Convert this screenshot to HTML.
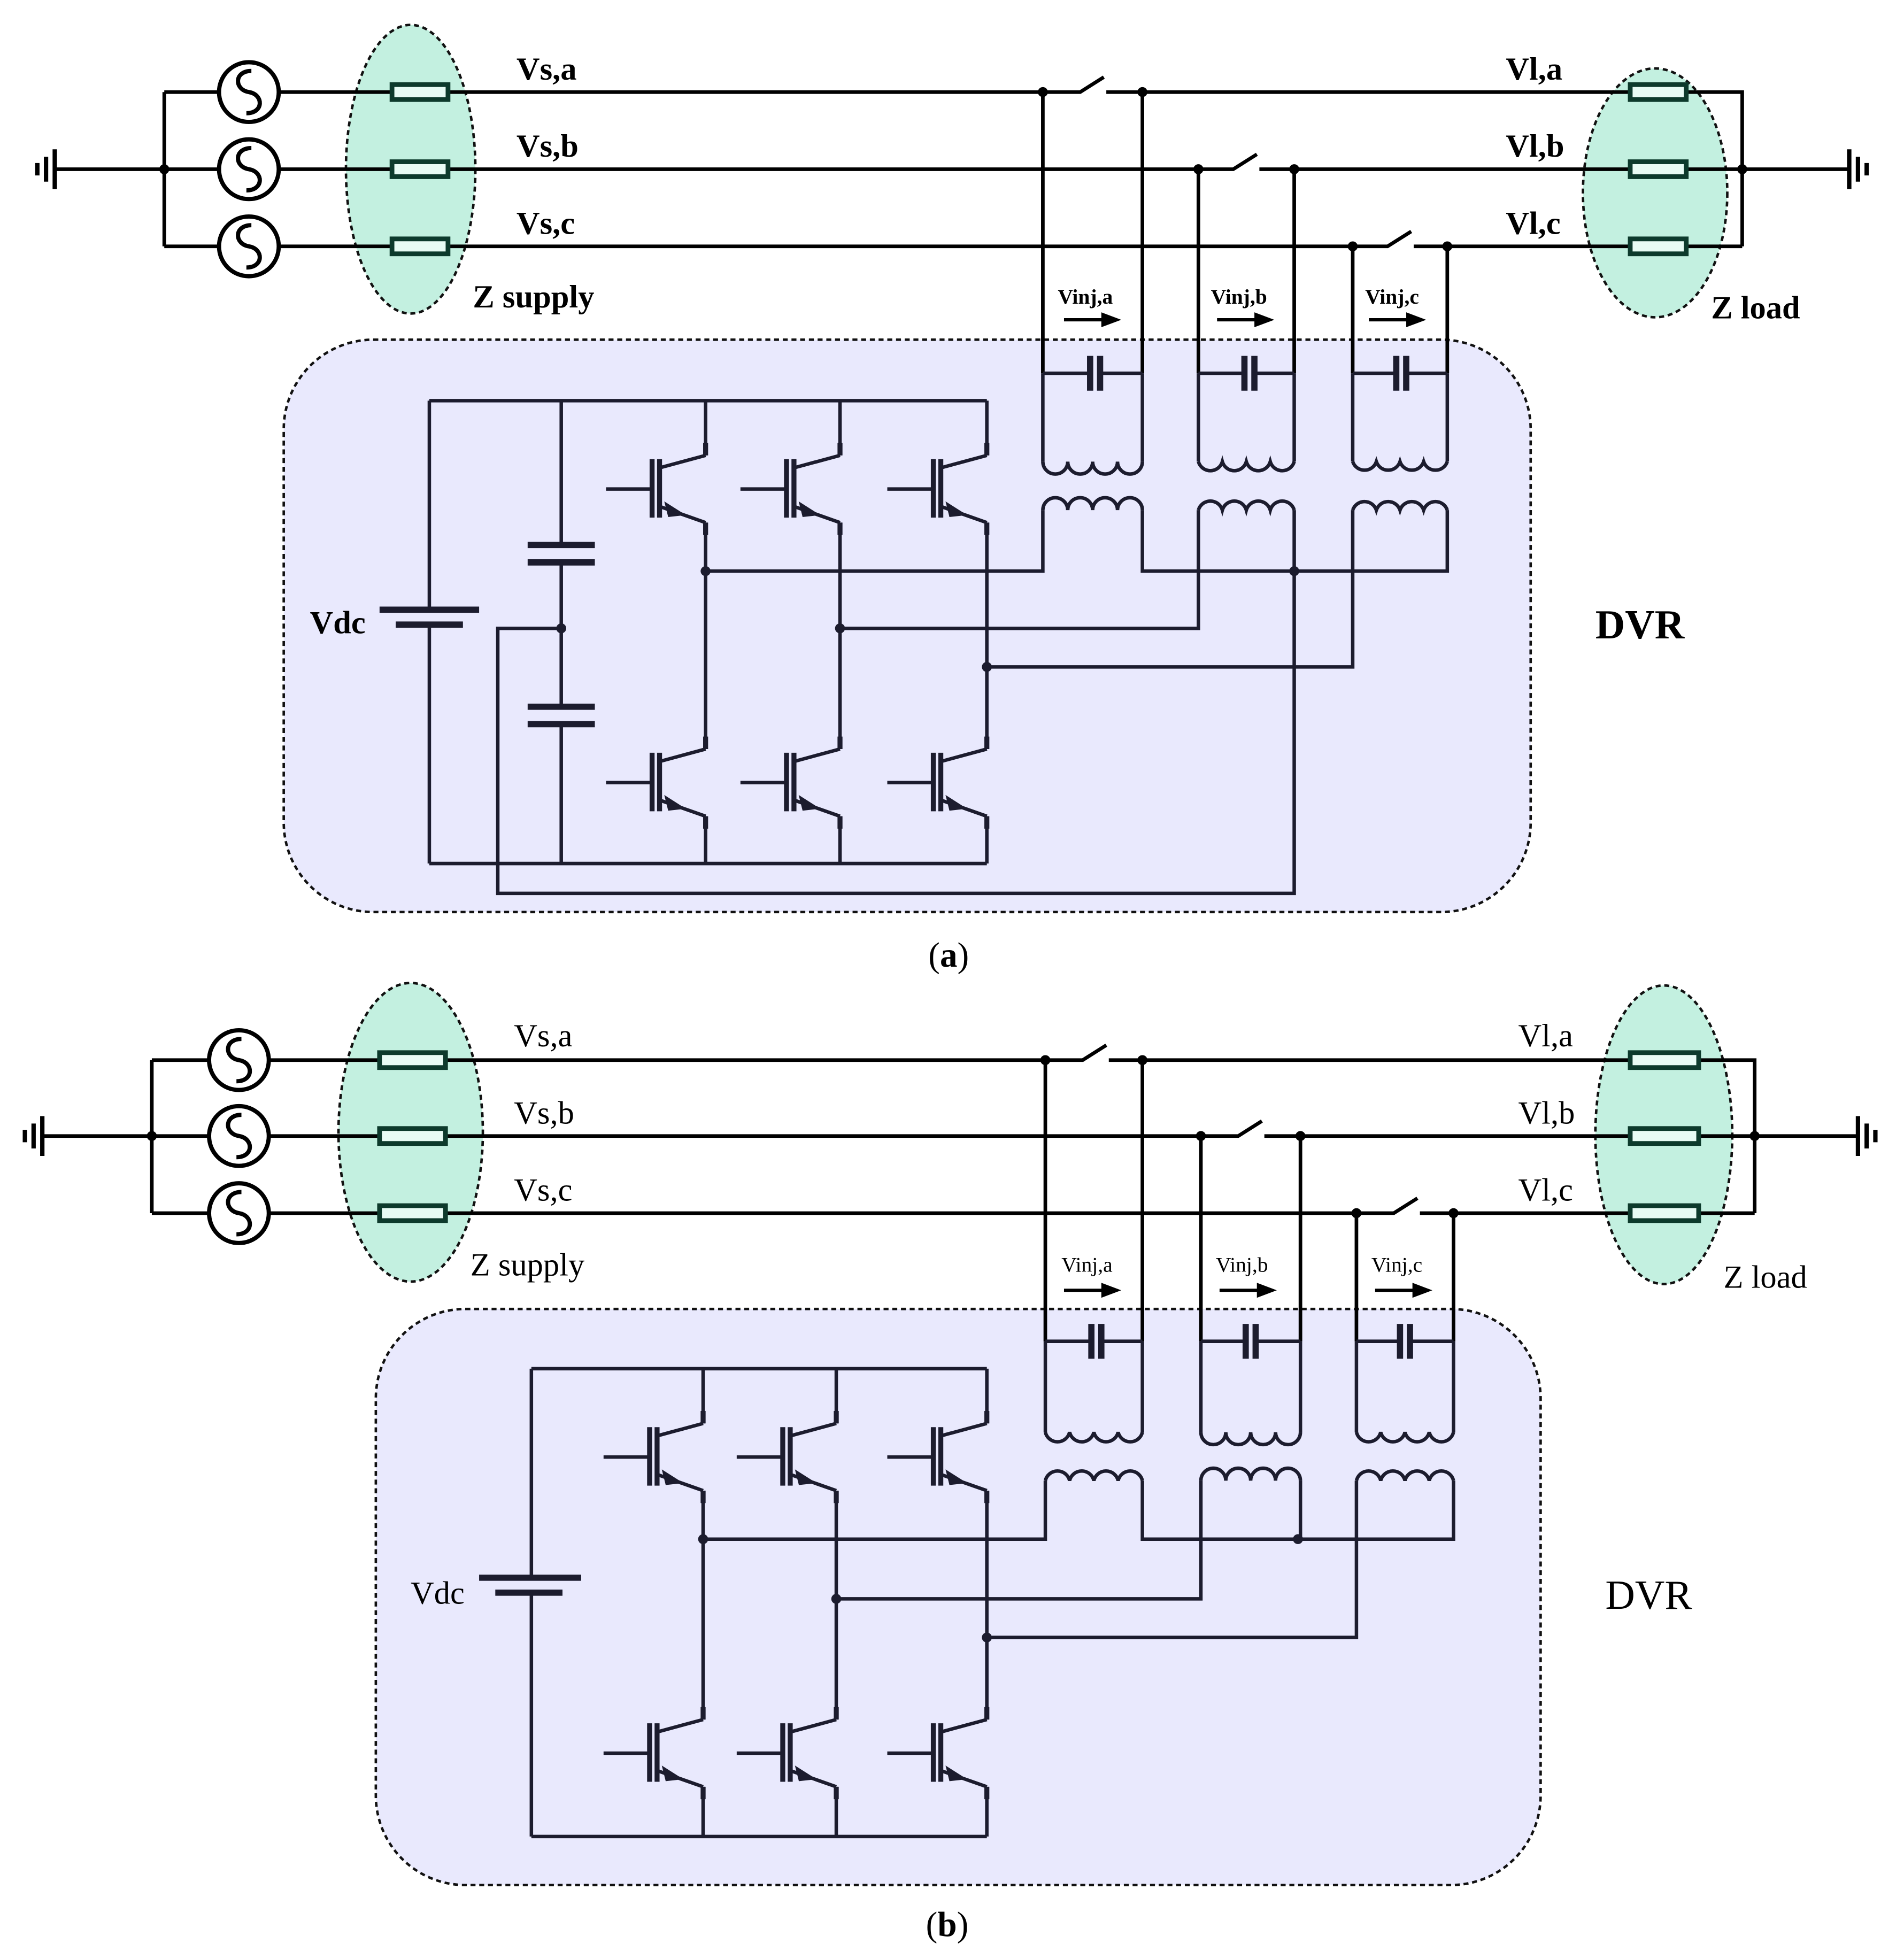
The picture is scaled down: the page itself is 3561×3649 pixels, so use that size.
<!DOCTYPE html>
<html><head><meta charset="utf-8"><style>
html,body{margin:0;padding:0;background:#fff}
svg{display:block}
text{font-family:"Liberation Serif",serif;fill:#000}
</style></head><body>
<svg width="3561" height="3649" viewBox="0 0 1530 1568" preserveAspectRatio="none" xmlns="http://www.w3.org/2000/svg">
<defs>
<g id="igbt" fill="none" stroke="#1c1c2e" stroke-width="2.8">
<path d="M0,-27 L-37,-17 M-37,14 L0,27 M-80,0 L-43,0"/>
<path d="M0,-27 L0,-37 M0,27 L0,37" stroke-width="4"/>
<path d="M-43,-24 L-43,23 M-37,-24 L-37,23" stroke-width="4"/>
<path d="M-20,20 L-31,13 L-29,21 Z" fill="#1c1c2e"/>
</g>
<g id="src">
<circle r="24" fill="#fff" stroke="#000" stroke-width="3.4"/>
<path d="M2,-17 C-12,-17 -12,-2 0,0 C12,2 12,17 -2,17" fill="none" stroke="#000" stroke-width="3.4"/>
</g>
<g id="arrow"><path d="M0,0 L35,0" stroke="#000" stroke-width="2.6"/><path d="M30,-6 L46,0 L30,6 Z" fill="#000"/></g>
</defs>

<!-- ============ (a) ============ -->
<rect x="228" y="273" width="1002" height="460" rx="72" fill="#e9e9fd" stroke="#111" stroke-width="2" stroke-dasharray="4,3"/>
<ellipse cx="330" cy="136" rx="52" ry="116" fill="#c3f0e0" stroke="#111" stroke-width="2" stroke-dasharray="4,3"/>
<ellipse cx="1330" cy="155" rx="58" ry="100" fill="#c3f0e0" stroke="#111" stroke-width="2" stroke-dasharray="4,3"/>

<g stroke="#000" stroke-width="2.9" fill="none">
<path d="M45,136 H132 M132,74 V198 M132,74 H176 M132,136 H176 M132,198 H176"/>
<path d="M224,74 H315 M224,136 H315 M224,198 H315"/>
<path d="M360,74 H868 L887,62 M889,74 H1310 M360,136 H991 L1010,124 M1012,136 H1310 M360,198 H1115 L1134,186 M1136,198 H1310"/>
<path d="M1355,74 H1400 V198 M1355,136 H1400 M1355,198 H1400 M1400,136 H1485"/>
<path d="M838,74 V300 M918,74 V300 M963,136 V300 M1040,136 V300 M1087,198 V300 M1163,198 V300"/>
</g>
<g stroke="#000" stroke-width="3.5"><path d="M44,120 V152 M37,126 V146 M30,131 V141 M1486,120 V152 M1493,126 V146 M1500,131 V141"/></g>
<g fill="#000"><circle cx="132" cy="136" r="4"/><circle cx="838" cy="74" r="4"/><circle cx="918" cy="74" r="4"/><circle cx="963" cy="136" r="4"/><circle cx="1040" cy="136" r="4"/><circle cx="1087" cy="198" r="4"/><circle cx="1163" cy="198" r="4"/><circle cx="1400" cy="136" r="4"/></g>
<use href="#src" x="200" y="74"/><use href="#src" x="200" y="136"/><use href="#src" x="200" y="198"/>
<g fill="#e8fbf4" stroke="#0d3a2c" stroke-width="3.8">
<rect x="315" y="68" width="45" height="12"/><rect x="315" y="130" width="45" height="12"/><rect x="315" y="192" width="45" height="12"/>
<rect x="1310" y="68" width="45" height="12"/><rect x="1310" y="130" width="45" height="12"/><rect x="1310" y="192" width="45" height="12"/>
</g>
<g font-weight="bold" font-size="26">
<text x="415" y="64">Vs,a</text><text x="415" y="126">Vs,b</text><text x="415" y="188">Vs,c</text>
<text x="1210" y="64">Vl,a</text><text x="1210" y="126">Vl,b</text><text x="1210" y="188">Vl,c</text>
<text x="380" y="247">Z supply</text><text x="1375" y="256">Z load</text>
<text x="249" y="509">Vdc</text><text x="1282" y="513" font-size="33">DVR</text>
</g>
<g font-weight="bold" font-size="17"><text x="850" y="244">Vinj,a</text><text x="973" y="244">Vinj,b</text><text x="1097" y="244">Vinj,c</text></g>
<use href="#arrow" x="855" y="257"/><use href="#arrow" x="978" y="257"/><use href="#arrow" x="1100" y="257"/>

<g stroke="#1c1c2e" stroke-width="2.8" fill="none">
<path d="M838,300 V371 M918,300 V371 M963,300 V371 M1040,300 V371 M1087,300 V371 M1163,300 V371"/>
<path d="M838,300 H876 M884,300 H918 M963,300 H1000 M1008,300 H1040 M1087,300 H1122 M1130,300 H1163"/>
<path d="M838,371 a10,10 0 0 0 20,0 a10,10 0 0 0 20,0 a10,10 0 0 0 20,0 a10,10 0 0 0 20,0 M963,371 a10,10 0 0 0 19.25,0 a10,10 0 0 0 19.25,0 a10,10 0 0 0 19.25,0 a10,10 0 0 0 19.25,0 M1087,371 a10,10 0 0 0 19,0 a10,10 0 0 0 19,0 a10,10 0 0 0 19,0 a10,10 0 0 0 19,0"/>
<path d="M838,410 a10,10 0 0 1 20,0 a10,10 0 0 1 20,0 a10,10 0 0 1 20,0 a10,10 0 0 1 20,0 M963,410 a10,10 0 0 1 19.25,0 a10,10 0 0 1 19.25,0 a10,10 0 0 1 19.25,0 a10,10 0 0 1 19.25,0 M1087,410 a10,10 0 0 1 19,0 a10,10 0 0 1 19,0 a10,10 0 0 1 19,0 a10,10 0 0 1 19,0"/>
<path d="M838,410 V459 H567 M918,410 V459 H1163 V410 M963,410 V505 H675 M1040,410 V718 H400 V505 H451 M1087,410 V536 H793"/>
<path d="M345,322 H793 M345,694 H793 M345,322 V490 M345,502 V694 M451,322 V438 M451,452 V568 M451,582 V694"/>
<path d="M567,322 V366 M567,420 V602 M567,656 V694 M675,322 V366 M675,420 V602 M675,656 V694 M793,322 V366 M793,420 V602 M793,656 V694"/>
</g>
<g stroke="#1c1c2e" stroke-width="5"><path d="M876,286 V314 M884,286 V314 M1000,286 V314 M1008,286 V314 M1122,286 V314 M1130,286 V314 M305,490 H385 M318,502 H372 M424,438 H478 M424,452 H478 M424,568 H478 M424,582 H478"/></g>
<g fill="#1c1c2e"><circle cx="567" cy="459" r="4"/><circle cx="675" cy="505" r="4"/><circle cx="793" cy="536" r="4"/><circle cx="451" cy="505" r="4"/><circle cx="1040" cy="459" r="4"/></g>
<use href="#igbt" x="567" y="393"/><use href="#igbt" x="675" y="393"/><use href="#igbt" x="793" y="393"/>
<use href="#igbt" x="567" y="629"/><use href="#igbt" x="675" y="629"/><use href="#igbt" x="793" y="629"/>
<text x="746" y="777" font-size="28">(<tspan font-weight="bold">a</tspan>)</text>

<!-- ============ (b) ============ -->
<rect x="302" y="1052" width="936" height="463" rx="72" fill="#e9e9fd" stroke="#111" stroke-width="2" stroke-dasharray="4,3"/>
<ellipse cx="330" cy="910" rx="58" ry="120" fill="#c3f0e0" stroke="#111" stroke-width="2" stroke-dasharray="4,3"/>
<ellipse cx="1337" cy="912" rx="55" ry="120" fill="#c3f0e0" stroke="#111" stroke-width="2" stroke-dasharray="4,3"/>
<g stroke="#000" stroke-width="2.9" fill="none">
<path d="M35,913 H122 M122,852 V975 M122,852 H168 M122,913 H168 M122,975 H168"/>
<path d="M216,852 H305 M216,913 H305 M216,975 H305"/>
<path d="M358,852 H870 L889,840 M891,852 H1310 M358,913 H995 L1014,901 M1016,913 H1310 M358,975 H1120 L1139,963 M1141,975 H1310"/>
<path d="M1365,852 H1410 V975 M1365,913 H1410 M1365,975 H1410 M1410,913 H1492"/>
<path d="M840,852 V1078 M918,852 V1078 M965,913 V1078 M1045,913 V1078 M1090,975 V1078 M1168,975 V1078"/>
</g>
<g stroke="#000" stroke-width="3.5"><path d="M34,897 V929 M27,903 V923 M20,908 V918 M1493,897 V929 M1500,903 V923 M1507,908 V918"/></g>
<g fill="#000"><circle cx="122" cy="913" r="4"/><circle cx="840" cy="852" r="4"/><circle cx="918" cy="852" r="4"/><circle cx="965" cy="913" r="4"/><circle cx="1045" cy="913" r="4"/><circle cx="1090" cy="975" r="4"/><circle cx="1168" cy="975" r="4"/><circle cx="1410" cy="913" r="4"/></g>
<use href="#src" x="192" y="852"/><use href="#src" x="192" y="913"/><use href="#src" x="192" y="975"/>
<g fill="#e8fbf4" stroke="#0d3a2c" stroke-width="3.8">
<rect x="305" y="846" width="53" height="12"/><rect x="305" y="907" width="53" height="12"/><rect x="305" y="969" width="53" height="12"/>
<rect x="1310" y="846" width="55" height="12"/><rect x="1310" y="907" width="55" height="12"/><rect x="1310" y="969" width="55" height="12"/>
</g>
<g font-size="26">
<text x="413" y="841">Vs,a</text><text x="413" y="903">Vs,b</text><text x="413" y="965">Vs,c</text>
<text x="1220" y="841">Vl,a</text><text x="1220" y="903">Vl,b</text><text x="1220" y="965">Vl,c</text>
<text x="378" y="1025">Z supply</text><text x="1385" y="1035">Z load</text>
<text x="330" y="1289">Vdc</text><text x="1290" y="1293" font-size="33">DVR</text>
</g>
<g font-size="17"><text x="853" y="1022">Vinj,a</text><text x="977" y="1022">Vinj,b</text><text x="1102" y="1022">Vinj,c</text></g>
<use href="#arrow" x="855" y="1037"/><use href="#arrow" x="980" y="1037"/><use href="#arrow" x="1105" y="1037"/>
<g stroke="#1c1c2e" stroke-width="2.8" fill="none">
<path d="M840,1078 V1151 M918,1078 V1151 M965,1078 V1151 M1045,1078 V1151 M1090,1078 V1151 M1168,1078 V1151"/>
<path d="M840,1078 H877 M885,1078 H918 M965,1078 H1001 M1009,1078 H1045 M1090,1078 H1125 M1133,1078 H1168"/>
<path d="M840,1151 a10,10 0 0 0 19.5,0 a10,10 0 0 0 19.5,0 a10,10 0 0 0 19.5,0 a10,10 0 0 0 19.5,0 M965,1151 a10,10 0 0 0 20,0 a10,10 0 0 0 20,0 a10,10 0 0 0 20,0 a10,10 0 0 0 20,0 M1090,1151 a10,10 0 0 0 19.5,0 a10,10 0 0 0 19.5,0 a10,10 0 0 0 19.5,0 a10,10 0 0 0 19.5,0"/>
<path d="M840,1190 a10,10 0 0 1 19.5,0 a10,10 0 0 1 19.5,0 a10,10 0 0 1 19.5,0 a10,10 0 0 1 19.5,0 M965,1190 a10,10 0 0 1 20,0 a10,10 0 0 1 20,0 a10,10 0 0 1 20,0 a10,10 0 0 1 20,0 M1090,1190 a10,10 0 0 1 19.5,0 a10,10 0 0 1 19.5,0 a10,10 0 0 1 19.5,0 a10,10 0 0 1 19.5,0"/>
<path d="M840,1190 V1237 H565 M918,1190 V1237 H1168 V1190 M965,1190 V1285 H672 M1045,1190 V1237 M1090,1190 V1316 H793"/>
<path d="M427,1100 H793 M427,1476 H793 M427,1100 V1268 M427,1280 V1476"/>
<path d="M565,1100 V1144 M565,1198 V1382 M565,1436 V1476 M672,1100 V1144 M672,1198 V1382 M672,1436 V1476 M793,1100 V1144 M793,1198 V1382 M793,1436 V1476"/>
</g>
<g stroke="#1c1c2e" stroke-width="5"><path d="M877,1064 V1092 M885,1064 V1092 M1001,1064 V1092 M1009,1064 V1092 M1125,1064 V1092 M1133,1064 V1092 M385,1268 H467 M398,1280 H452"/></g>
<g fill="#1c1c2e"><circle cx="565" cy="1237" r="4"/><circle cx="672" cy="1285" r="4"/><circle cx="793" cy="1316" r="4"/><circle cx="1043" cy="1237" r="4"/></g>
<use href="#igbt" x="565" y="1171"/><use href="#igbt" x="672" y="1171"/><use href="#igbt" x="793" y="1171"/>
<use href="#igbt" x="565" y="1409"/><use href="#igbt" x="672" y="1409"/><use href="#igbt" x="793" y="1409"/>
<text x="744" y="1556" font-size="28">(<tspan font-weight="bold">b</tspan>)</text>
</svg>
</body></html>
